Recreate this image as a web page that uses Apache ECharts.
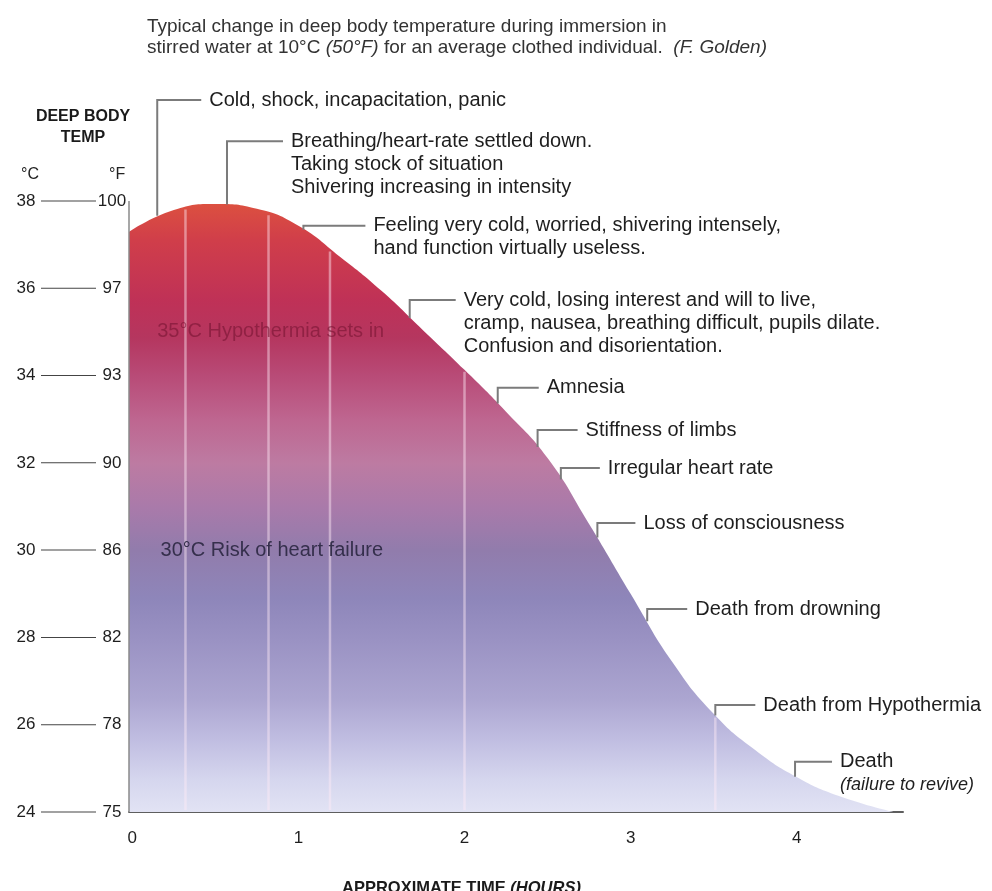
<!DOCTYPE html>
<html>
<head>
<meta charset="utf-8">
<script src="https://cdn.jsdelivr.net/npm/echarts@6/dist/echarts.min.js"></script>
<style>
  html, body { margin: 0; padding: 0; background: #ffffff; }
  #chart { width: 992px; height: 891px; }
</style>
</head>
<body>
<div id="chart"></div>
<script>
// Deep body temperature (°C) against time spent in the water (hours)
const curveHours = [-0.02, 0.25, 0.50, 0.75, 1.00, 1.25, 1.50, 1.75, 2.00, 2.25,
                    2.50, 2.75, 3.00, 3.25, 3.50, 3.75, 4.00, 4.25, 4.58];
const curveTemps = [37.29, 37.79, 37.93, 37.82, 37.43, 36.72, 35.94, 35.04, 34.13, 33.17,
                    32.11, 30.60, 29.00, 27.44, 26.25, 25.42, 24.80, 24.37, 24.00];

// Temperature scale: Celsius ticks with their Fahrenheit equivalents
const celsiusTicks = [24, 26, 28, 30, 32, 34, 36, 38];
const fahrenheitTicks = [75, 78, 82, 86, 90, 93, 97, 100];
const hourTicks = [0, 1, 2, 3, 4];

// Stages of cooling: when they occur, body temperature then, level of the caption
const stageHours = [0.15, 0.57, 1.03, 1.67, 2.20, 2.44, 2.58, 2.80, 3.10, 3.51, 3.99];
const stageTemps = [37.66, 37.92, 37.34, 35.32, 33.36, 32.36, 31.62, 30.29, 28.37, 26.21, 24.81];
const stageCaptionTemps = [40.31, 39.37, 37.43, 35.73, 33.72, 32.75, 31.88, 30.62, 28.65, 26.45, 25.15];
const stageCaptions = [
  'Cold, shock, incapacitation, panic',
  'Breathing/heart-rate settled down.\nTaking stock of situation\nShivering increasing in intensity',
  'Feeling very cold, worried, shivering intensely,\nhand function virtually useless.',
  'Very cold, losing interest and will to live,\ncramp, nausea, breathing difficult, pupils dilate.\nConfusion and disorientation.',
  'Amnesia',
  'Stiffness of limbs',
  'Irregular heart rate',
  'Loss of consciousness',
  'Death from drowning',
  'Death from Hypothermia',
  'Death\n{i|(failure to revive)}'
];

// Light drop lines inside the cooling area
const streakHours = [0.32, 0.82, 1.19, 2.00, 3.51];
const streakTopTemps = [37.85, 37.72, 36.89, 34.13, 26.21];

// Threshold notes written inside the area
const zoneHours = [0.15, 0.17];
const zoneTemps = [35, 30];
const zoneLabels = ['35°C Hypothermia sets in', '30°C Risk of heart failure'];

const FONT = '"Liberation Sans", Arial, Helvetica, sans-serif';
const leaderLengths = [44, 56, 62, 46, 41, 40, 39, 38, 40, 40, 37];
const captionGap = 8;

const chart = echarts.init(document.getElementById('chart'), null, { renderer: 'canvas' });

const areaFill = new echarts.graphic.LinearGradient(0, 0, 0, 1, [
  { offset: 0.00, color: '#dc5040' },
  { offset: 0.06, color: '#d03e4a' },
  { offset: 0.16, color: '#bf3157' },
  { offset: 0.22, color: '#b5365f' },
  { offset: 0.28, color: '#b84a76' },
  { offset: 0.355, color: '#be6690' },
  { offset: 0.426, color: '#bd7ba2' },
  { offset: 0.50, color: '#a97aaa' },
  { offset: 0.57, color: '#917cac' },
  { offset: 0.65, color: '#8e86ba' },
  { offset: 0.717, color: '#9a92c3' },
  { offset: 0.816, color: '#aca6d1' },
  { offset: 0.88, color: '#c0bde1' },
  { offset: 0.947, color: '#d5d6ee' },
  { offset: 1.00, color: '#e2e3f4' }
]);

function renderStreak(params, api) {
  const top = api.coord([api.value(0), api.value(1)]);
  const bottom = api.coord([api.value(0), 24]);
  return {
    type: 'line',
    shape: { x1: top[0], y1: top[1] + 2, x2: bottom[0], y2: bottom[1] - 2 },
    style: { stroke: 'rgba(255,236,246,0.45)', lineWidth: 2.5 }
  };
}

function renderStage(params, api) {
  const i = params.dataIndex;
  const onCurve = api.coord([api.value(0), api.value(1)]);
  const level = api.coord([api.value(0), api.value(2)]);
  const end = [level[0] + leaderLengths[i], level[1]];
  return {
    type: 'group',
    children: [
      {
        type: 'polyline',
        shape: { points: [onCurve, level, end] },
        style: { stroke: '#7b7b7b', lineWidth: 2, fill: null }
      },
      {
        type: 'text',
        x: end[0] + captionGap,
        y: level[1] - 11.5,
        style: {
          text: stageCaptions[i],
          fill: '#1e1e1e',
          fontFamily: FONT,
          fontSize: 20,
          lineHeight: 23,
          align: 'left',
          verticalAlign: 'top',
          rich: { i: { fontStyle: 'italic', fontFamily: FONT, fontSize: 18, lineHeight: 23, fill: '#1e1e1e' } }
        }
      }
    ]
  };
}

function renderZone(params, api) {
  const i = params.dataIndex;
  const p = api.coord([api.value(0), api.value(1)]);
  const first = i === 0;
  return {
    type: 'text',
    x: p[0],
    y: p[1],
    style: {
      text: zoneLabels[i],
      fill: first ? 'rgba(118,20,50,0.6)' : '#352f4c',
      fontFamily: FONT,
      fontSize: 20,
      align: 'left',
      verticalAlign: 'middle',
      shadowBlur: first ? 4 : 0,
      shadowColor: first ? 'rgba(118,20,50,0.55)' : 'transparent'
    }
  };
}

const option = {
  animation: false,
  backgroundColor: '#ffffff',
  title: [
    {
      left: 142, top: 11,
      text: 'Typical change in deep body temperature during immersion in\nstirred water at 10°C {i|(50°F)} for an average clothed individual.  {i|(F. Golden)}',
      textStyle: {
        fontFamily: FONT, fontSize: 19, fontWeight: 'normal', color: '#333', lineHeight: 21,
        rich: { i: { fontFamily: FONT, fontSize: 19, fontStyle: 'italic', color: '#333', lineHeight: 21 } }
      }
    },
    {
      left: 78, top: 101, textAlign: 'center',
      text: 'DEEP BODY\nTEMP',
      textStyle: { fontFamily: FONT, fontSize: 16, fontWeight: 'bold', color: '#1a1a1a', lineHeight: 21 }
    },
    {
      left: 16, top: 162,
      text: '°C',
      textStyle: { fontFamily: FONT, fontSize: 16, fontWeight: 'normal', color: '#222' }
    },
    {
      left: 104, top: 162,
      text: '°F',
      textStyle: { fontFamily: FONT, fontSize: 16, fontWeight: 'normal', color: '#222' }
    },
    {
      left: 337, top: 875,
      text: 'APPROXIMATE TIME {i|(HOURS)}',
      textStyle: {
        fontFamily: FONT, fontSize: 16.5, fontWeight: 'bold', color: '#1a1a1a',
        rich: { i: { fontFamily: FONT, fontSize: 16.5, fontWeight: 'bold', fontStyle: 'italic', color: '#1a1a1a' } }
      }
    }
  ],
  grid: { left: 129, right: 89, top: 70, bottom: 79 },
  xAxis: {
    type: 'value',
    min: -0.02,
    max: 4.64,
    axisLine: { show: true, lineStyle: { color: '#5e5e5e', width: 2 } },
    axisTick: { show: false },
    splitLine: { show: false },
    axisLabel: {
      customValues: hourTicks,
      margin: 18,
      fontFamily: FONT,
      fontSize: 17,
      color: '#1e1e1e'
    }
  },
  yAxis: {
    type: 'value',
    min: 24,
    max: 41,
    axisLine: { show: false },
    axisTick: { show: false },
    splitLine: { show: false },
    axisLabel: {
      customValues: celsiusTicks,
      margin: 3,
      fontFamily: FONT,
      fontSize: 17,
      color: '#1e1e1e',
      formatter: function (v) {
        const f = fahrenheitTicks[celsiusTicks.indexOf(v)];
        return '{c|' + v + '}{g| }{ln| }{h| }{f|' + f + '}';
      },
      rich: {
        c: { width: 22, align: 'right', fontFamily: FONT, fontSize: 17, color: '#1e1e1e' },
        g: { width: 4 },
        ln: { width: 55, height: 1, backgroundColor: '#444' },
        h: { width: 2 },
        f: { width: 28, align: 'left', fontFamily: FONT, fontSize: 17, color: '#1e1e1e' }
      }
    }
  },
  series: [
    {
      type: 'line',
      data: curveHours.map((h, i) => [h, curveTemps[i]]),
      smooth: 0.5,
      symbol: 'none',
      lineStyle: { width: 0 },
      areaStyle: { color: areaFill, opacity: 1 },
      z: 2,
      markLine: {
        silent: true,
        symbol: 'none',
        label: { show: false },
        lineStyle: { color: '#8a8a8a', width: 1.5, type: 'solid' },
        data: [[{ coord: [curveHours[0], 24] }, { coord: [curveHours[0], 38] }]]
      }
    },
    {
      type: 'custom',
      renderItem: renderStreak,
      data: streakHours.map((h, i) => [h, streakTopTemps[i]]),
      encode: { x: 0, y: 1 },
      silent: true,
      z: 3
    },
    {
      type: 'custom',
      renderItem: renderZone,
      data: zoneHours.map((h, i) => [h, zoneTemps[i]]),
      encode: { x: 0, y: 1 },
      silent: true,
      z: 4
    },
    {
      type: 'custom',
      renderItem: renderStage,
      data: stageHours.map((h, i) => [h, stageTemps[i], stageCaptionTemps[i]]),
      encode: { x: 0, y: [1, 2] },
      silent: true,
      clip: false,
      z: 5
    }
  ]
};

chart.setOption(option);
</script>
</body>
</html>
